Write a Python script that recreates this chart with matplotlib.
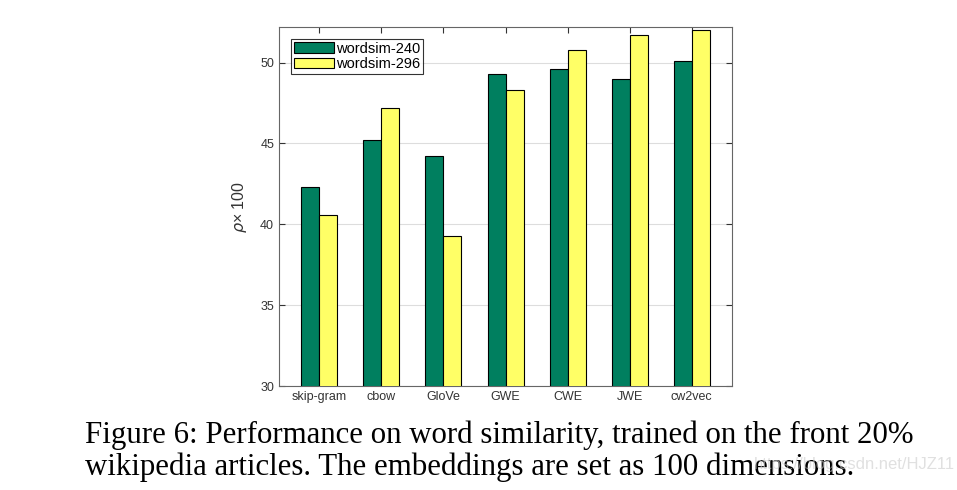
import numpy as np
import matplotlib
matplotlib.use('Agg')
import matplotlib.pyplot as plt

# dados
methods = ['skip-gram', 'cbow', 'GloVe', 'GWE', 'CWE', 'JWE', 'cw2vec']
ws240 = [42.3, 45.2, 44.2, 49.3, 49.6, 49.0, 50.1]
ws296 = [40.6, 47.2, 39.3, 48.3, 50.8, 51.7, 52.0]

plt.rcParams['font.family'] = ['Liberation Sans', 'DejaVu Sans']

fig = plt.figure(figsize=(9.57, 4.9), dpi=100)
ax = fig.add_axes([0.2915, 0.2122, 0.4735, 0.7327])

x = np.arange(len(methods))
w = 0.29
ax.bar(x - w / 2, ws240, w, color='#007f5f', edgecolor='black', linewidth=0.8,
       label='wordsim-240', zorder=3)
ax.bar(x + w / 2, ws296, w, color='#ffff66', edgecolor='black', linewidth=0.8,
       label='wordsim-296', zorder=3)

ax.set_xlim(-0.65, 6.65)
ax.set_ylim(30, 52.2)
ax.set_yticks([30, 35, 40, 45, 50])
ax.set_xticks(x)
ax.set_xticklabels(methods)
ax.tick_params(direction='in', top=True, right=True, labelsize=9,
               colors='#333333', length=4)
ax.yaxis.grid(True, color='#dddddd', linewidth=0.8, zorder=0)
for s in ax.spines.values():
    s.set_color('#666666')
    s.set_linewidth(0.8)
ax.set_ylabel(r'$\rho$' + '× 100', fontsize=11.5, color='#333333', labelpad=8)

leg = ax.legend(loc='upper left', fontsize=10.5, frameon=True, fancybox=False,
                borderpad=0.2, labelspacing=0.1, handlelength=2.8,
                handletextpad=0.1, borderaxespad=0.8)
leg.get_frame().set_edgecolor('black')
leg.get_frame().set_linewidth(0.8)

fig.text(0.089, 0.112, 'Figure 6: Performance on word similarity, trained on the front 20%',
         family='Liberation Serif', fontsize=22.2, va='center')
fig.text(0.089, 0.046, 'wikipedia articles. The embeddings are set as 100 dimensions.',
         family='Liberation Serif', fontsize=22.2, va='center')
fig.text(0.998, 0.052, 'https://blog.csdn.net/HJZ11', ha='right', va='center',
         fontsize=12, color='#cccccc', alpha=0.6)

fig.savefig('out.png', dpi=100)
